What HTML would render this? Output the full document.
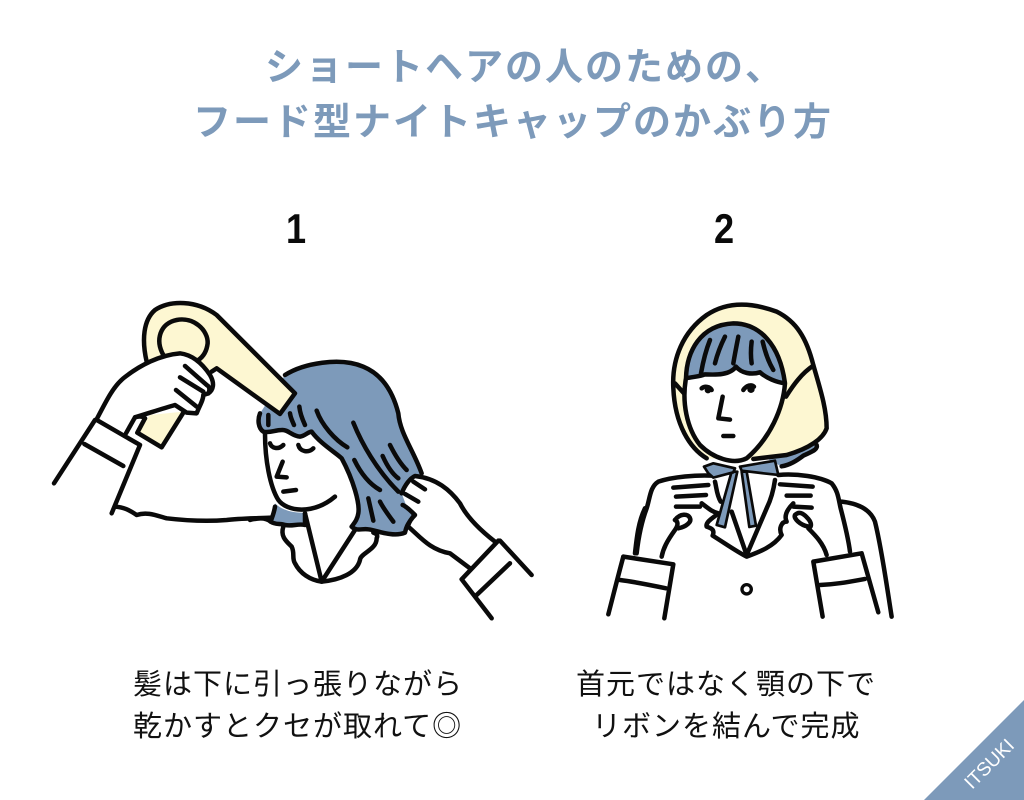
<!DOCTYPE html>
<html lang="ja"><head><meta charset="utf-8"><title>フード型ナイトキャップのかぶり方</title>
<style>html,body{margin:0;padding:0;background:#fff;width:1024px;height:800px;overflow:hidden}svg{display:block}
.t{font-family:"Liberation Sans","Noto Sans CJK JP",sans-serif;font-weight:700;font-size:38px;fill:#7d9aba;letter-spacing:2px}
.b{font-family:"Liberation Sans","Noto Sans CJK JP",sans-serif;font-weight:400;font-size:29px;fill:#111;letter-spacing:1px}
.n{font-family:"Liberation Sans",sans-serif;font-weight:700;font-size:42px;fill:#0a0a0a}
.k{fill:none;stroke:#0a0a0a;stroke-width:13.5;stroke-linecap:round;stroke-linejoin:round}
.y{fill:#fdf7d2}.u{fill:#7d9aba}.w{fill:#fff}
</style></head><body>
<svg width="1024" height="800" viewBox="0 0 1024 800" xmlns="http://www.w3.org/2000/svg">
<rect width="1024" height="800" fill="#fff"/>
<text class="t" x="265" y="80">ショートヘアの人のための、</text>
<text class="t" x="193" y="135">フード型ナイトキャップのかぶり方</text>
<text class="n" transform="translate(286,243) scale(.86,1)">1</text>
<text class="n" transform="translate(714,243) scale(.86,1)">2</text>
<text class="b" x="133" y="694">髪は下に引っ張りながら</text>
<text class="b" x="133" y="736">乾かすとクセが取れて◎</text>
<text class="b" x="576" y="694">首元ではなく顎の下で</text>
<text class="b" x="592" y="736">リボンを結んで完成</text>

<!-- left: hair and head (zoom coords 250,350) -->
<g transform="translate(250,350) scale(.3333)">
<path class="u" d="M105,75C160,40 270,20 340,50C400,75 430,130 445,190C450,250 490,300 515,370L495,378L460,420L470,450L495,495L470,520L465,550C440,555 410,545 385,545C360,540 340,535 315,540L305,525C330,500 335,460 320,420C300,370 270,320 250,300C225,285 200,265 185,245L150,260L120,240L70,245L40,245L25,220L30,190Z"/>
<path class="w" d="M45,245L70,245L120,240L150,260L185,245C210,280 260,310 280,340C310,390 330,460 305,530L215,695L165,490C120,495 90,470 75,440C55,400 45,320 45,245Z"/>
<path class="u" d="M75,460C95,480 130,490 165,488L165,525L105,525L62,515Z"/>
<path class="k" d="M105,75C160,40 270,20 340,50C400,75 430,130 445,190C450,250 490,300 515,370"/>
<path class="k" d="M30,190C22,210 25,235 40,245C60,250 75,240 95,240C115,238 125,258 150,260C165,258 175,245 185,245C210,280 260,310 275,325C310,390 330,460 325,490C322,510 312,520 305,530C320,545 335,535 355,538C375,540 395,550 420,552C440,555 455,552 465,548C468,535 470,525 490,500C495,490 485,480 470,470"/>
<path class="k" d="M45,250C45,330 60,410 85,450C110,485 190,495 255,440"/>
<path class="k" d="M75,470C72,490 65,505 62,515C75,525 90,520 105,525C125,530 145,520 165,525L165,490"/>
<path class="k" d="M0,510C20,505 45,500 62,515"/>
<path class="k" d="M165,490L215,695L315,540"/>
<path class="k" d="M100,530C90,560 110,575 125,590C135,610 125,625 135,640C150,670 180,690 215,695C270,690 320,670 330,630C330,610 380,600 380,565C385,555 378,550 370,548"/>
<path class="k" d="M60,280C65,295 85,300 100,285M145,285C150,305 175,310 190,295M98,335L80,380L110,382M100,425L138,420"/>
<path class="k" d="M55,195L55,225M120,190C122,205 128,215 132,225M148,170C150,190 158,210 165,225M200,182C215,225 255,270 292,292M310,218C335,280 380,360 445,425M313,330C330,365 355,400 390,420M398,318C410,345 425,370 445,385M420,285C435,315 450,340 470,360M355,445L370,512M390,455C400,475 415,495 430,515"/>
<path class="w" d="M495,378C560,385 600,420 630,460C650,500 690,540 735,575L635,688L600,610C540,600 510,560 475,530L495,495L470,470L455,430Z"/>
<path class="k" d="M455,430C465,405 480,385 495,378C560,385 600,420 630,460C650,500 690,540 735,575M475,530C510,560 540,600 600,610C620,625 640,640 660,655M490,395L525,418M465,432L505,455M458,465C470,470 485,485 495,495C485,505 478,515 475,525"/>
<path class="w" d="M745,572L635,688L680,740L780,640Z"/>
<path class="k" d="M745,572L635,688L725,805M750,572L845,675M780,640L680,735"/>
</g>

<!-- left: dryer and arm (zoom coords 40,290) -->
<g transform="translate(40,290) scale(.3333)">
<path class="y" d="M320,215C305,150 310,90 345,60C390,30 470,30 530,75L765,310L720,372L530,235L505,240L470,215Z"/>
<path class="k" d="M320,215C305,150 310,90 345,60C390,30 470,30 530,75L765,310L720,372L530,235L515,245"/>
<circle class="y" cx="430" cy="155" r="74"/>
<path class="k" d="M370,195C345,150 360,100 410,90C460,80 505,120 503,160C500,185 490,200 475,210"/>
<path class="y" d="M430,365L365,472L292,428L330,375Z"/>
<path class="k" d="M430,368L365,472L292,428L315,385"/>
<path class="w" d="M170,388C200,330 220,290 250,265C300,225 360,195 420,190C460,195 490,225 510,255C525,280 520,300 505,310L490,315C490,330 480,345 470,370L440,368L405,345C370,355 340,365 285,382L258,430Z"/>
<path class="k" d="M170,388C200,330 220,290 250,265C300,225 360,195 420,190C460,195 490,225 510,255C525,280 520,300 505,310L490,315C490,330 480,345 470,370L440,368L405,345C370,355 340,365 285,382L258,430"/>
<path class="k" d="M435,228L500,285M420,262L490,305M408,300L470,350M500,285C510,290 510,300 505,310"/>
<path class="k" d="M165,390L42,580M170,390L300,465L215,670M133,462L250,528"/>
<path class="k" d="M225,650C250,652 265,658 290,675C320,665 345,675 380,685C440,692 500,695 560,690C600,685 650,685 695,683"/>
<path class="k" d="M285,382C300,378 310,380 315,385"/>
</g>

<!-- right figure (zoom coords 600,295) -->
<g transform="translate(600,295) scale(.3333)">
<path class="u" d="M650,445C655,465 630,470 610,480C590,495 570,510 540,512L500,490Z"/>
<path class="k" d="M650,450C655,465 630,472 610,482C590,497 570,510 545,514"/>
<path class="y" d="M320,490C270,460 225,390 220,280C215,190 250,110 320,60C380,20 450,20 530,50C590,80 620,130 640,210C660,280 680,340 680,400C670,430 630,460 560,480L460,495Z"/>
<path class="k" d="M320,490C270,460 225,390 220,280C215,190 250,110 320,60C380,20 450,20 530,50C590,80 620,130 640,210C660,280 680,340 680,400C670,430 630,460 560,480L460,492"/>
<path class="k" d="M225,265L252,295M640,212C605,235 580,270 558,305"/>
<path class="u" d="M258,250C260,170 300,90 400,85C480,85 540,150 555,265C530,262 500,250 480,232C455,240 425,235 408,215C390,240 350,240 315,238C300,245 280,245 258,250Z"/>
<path class="w" d="M258,250C280,245 300,245 315,238C350,240 390,240 408,215C425,235 455,240 480,232C500,250 530,262 555,265C550,340 510,430 440,490C400,510 340,490 300,450C260,400 245,320 258,250Z"/>
<path class="k" d="M258,250C260,170 300,90 400,85C480,85 540,150 555,265C530,262 500,250 480,232C455,240 425,235 408,215C390,240 350,240 315,238C300,245 280,245 258,250C245,320 260,400 300,450C340,490 400,510 440,490C510,430 550,340 555,265"/>
<path class="k" d="M305,280C315,272 330,275 335,285M430,285C440,270 455,268 462,275M368,305L355,370L390,374M370,423L400,423"/>
<circle cx="324" cy="285" r="10" fill="#0a0a0a"/><circle cx="453" cy="283" r="11" fill="#0a0a0a"/>
<path class="k" d="M330,135C318,165 310,195 303,235M375,125C360,155 350,185 345,205M415,125C410,150 405,175 400,205M455,140C452,165 452,185 455,205M488,140C495,170 505,200 520,225"/>
<!-- hands & body -->
<path class="k" d="M25,958C40,900 55,840 70,785M105,775C110,730 115,680 135,640M725,620C770,625 810,640 825,680C845,760 860,870 875,965"/>
<path class="k" d="M185,785C190,760 200,740 225,705C235,690 235,680 225,675M335,542C290,540 220,545 175,560C150,575 150,610 140,640C125,680 115,730 110,775"/>
<path class="k" d="M220,578L325,570M228,605L318,600M228,635L300,635M225,675C240,655 265,655 270,670C275,680 260,695 235,700"/>
<path class="k" d="M535,540C590,535 660,545 695,565C715,590 715,610 722,640C735,690 745,730 750,770"/>
<path class="k" d="M540,568L638,575M560,602L632,602M580,635L635,638M625,695C600,690 580,670 585,660C600,645 615,660 625,672C640,690 630,700 625,700C645,720 670,745 680,780"/>
<path class="k" d="M70,785L220,808L193,970M60,855C100,860 150,870 198,880"/>
<path class="k" d="M640,800L785,775L835,952M640,800L668,965M660,870C710,868 750,860 795,852"/>
<path class="k" d="M305,625C325,640 335,650 355,655C345,665 315,680 320,695C335,700 345,705 338,722C375,745 410,770 440,785C480,770 520,755 545,720C535,700 545,680 560,680C550,660 565,640 580,625"/>
<path class="k" d="M345,560C350,580 350,600 362,620M525,555C520,590 510,620 500,640L440,780L395,650"/>
<ellipse class="k" cx="440" cy="883" rx="14" ry="14" style="stroke-width:10"/>
<g stroke="#0a0a0a" stroke-width="8" stroke-linejoin="round">
<path class="u" d="M395,530L412,530L375,697L350,690Z"/>
<path class="u" d="M425,530L440,530L468,692L448,696Z"/>
<path class="u" d="M312,515L340,505L405,520L400,532L340,548L325,535Z"/>
<path class="u" d="M420,515L525,497L535,540L490,535L425,527Z"/>
</g>
</g>

<polygon points="1024,700 1024,800 924,800" fill="#7d9aba"/>
<text transform="translate(972,790) rotate(-45)" font-family="Liberation Sans, sans-serif" font-size="19" fill="#fff">ITSUKI</text>
</svg>
</body></html>
